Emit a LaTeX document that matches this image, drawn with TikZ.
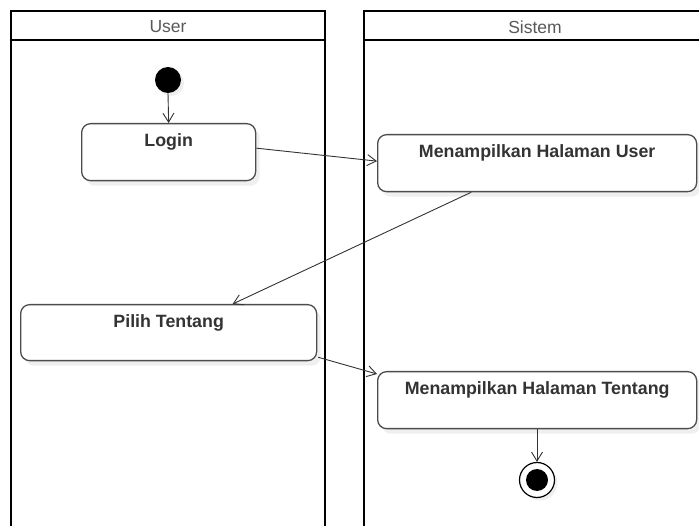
\documentclass[tikz,border=0pt]{standalone}
\usepackage{fontspec}
\setmainfont{Liberation Sans}
\usetikzlibrary{arrows.meta,shadows,calc}
\begin{document}
\begin{tikzpicture}[x=1pt,y=-1pt,
  lane/.style={draw=black,line width=2pt},
  lanehead/.style={font=\fontsize{17.5}{20}\selectfont,text=black!65},
  actbox/.style={draw=black!70,line width=1.3pt,rounded corners=9pt,fill=white,
    anchor=north west,inner sep=0pt,
    drop shadow={opacity=0.12,shadow xshift=4pt,shadow yshift=-5pt}},
  acttxt/.style={font=\bfseries\fontsize{17.8}{20}\selectfont,text=black!80,anchor=center,yshift=-19pt},
  flow/.style={draw=black!80,line width=0.9pt,-{Straight Barb[length=9pt,width=11pt,line width=0.9pt]}},
  startdot/.style={circle,fill=black,inner sep=0pt,minimum size=26pt,
    drop shadow={opacity=0.12,shadow xshift=3pt,shadow yshift=-3pt}},
]
\clip (0,0) rectangle (699,526);
\fill[white] (0,0) rectangle (699,526);

% swimlanes
\draw[lane] (11,560) -- (11,11) -- (325,11) -- (325,560);
\draw[lane] (11,40) -- (325,40);
\node[lanehead] (userhead) at (168,27) {User};
\draw[lane] (364,560) -- (364,11) -- (720,11);
\draw[lane] (364,40) -- (720,40);
\node[lanehead] (sistemhead) at (535,27) {Sistem};

% activities
\node[startdot] (start) at (168,80) {};
\node[actbox,minimum width=174pt,minimum height=57pt,
  label={[acttxt]north:Login}] (login) at (81,123) {};
\node[actbox,minimum width=319pt,minimum height=57pt,
  label={[acttxt]north:Menampilkan Halaman User}] (mhu) at (377,134) {};
\node[actbox,minimum width=296pt,minimum height=56pt,
  label={[acttxt]north:Pilih Tentang}] (pilih) at (20,304) {};
\node[actbox,minimum width=319pt,minimum height=57pt,
  label={[acttxt]north:Menampilkan Halaman Tentang}] (mht) at (377,371) {};

% final node
\node[circle,draw=black,line width=1.2pt,fill=white,inner sep=0pt,minimum size=35pt,
  drop shadow={opacity=0.12,shadow xshift=3pt,shadow yshift=-3pt}] (endring) at (537,480) {};
\node[circle,fill=black,inner sep=0pt,minimum size=22pt] (enddot) at (endring.center) {};

% transitions
\draw[flow] (start.south) -- (login.north);
\draw[flow] ($(login.east)+(0,-4)$) -- ($(mhu.west)+(0,-2)$);
\draw[flow] ($(mhu.south)+(-66,0)$) -- ($(pilih.north)+(64,0)$);
\draw[flow] ($(pilih.south east)+(1,-4)$) -- ($(mht.north west)+(0,3)$);
\draw[flow] (mht.south -| endring) -- (endring.north);
\end{tikzpicture}
\end{document}
